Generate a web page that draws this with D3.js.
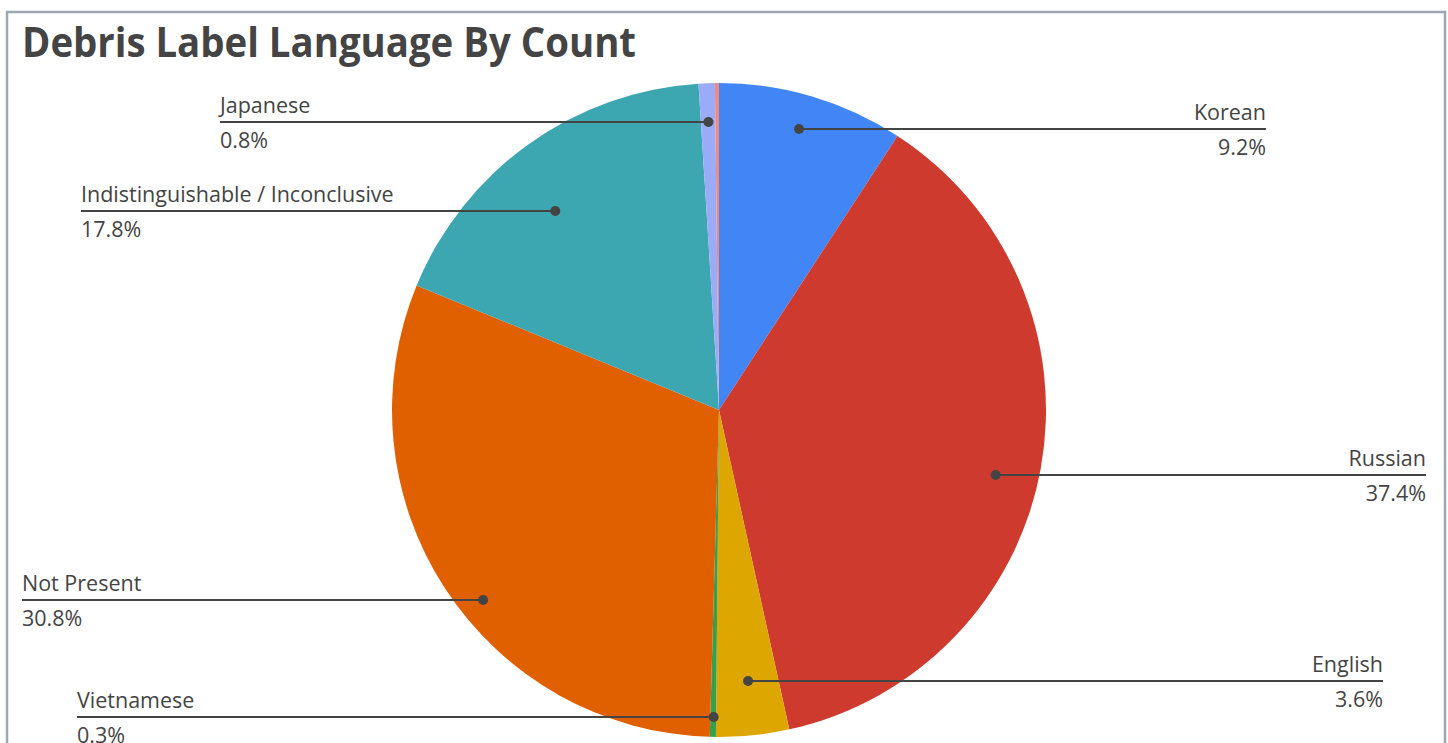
<!DOCTYPE html>
<html>
<head>
<meta charset="utf-8">
<script src="https://cdn.jsdelivr.net/npm/d3@7"></script>
<style>
  body { margin: 0; background: #fff; }
  svg { display: block; }
  text { font-family: "Open Sans", "Noto Sans", sans-serif; fill: #444; }
</style>
</head>
<body>
<svg id="chart" width="1448" height="743"></svg>
<script>
// Chart data (clockwise from 12 o'clock)
var languages = ["Korean", "Russian", "English", "Vietnamese", "Not Present",
                 "Indistinguishable / Inconclusive", "Japanese", "Other"];
var shares = [9.2, 37.4, 3.6, 0.3, 30.8, 17.8, 0.8, 0.2];
var sliceColors = ["#4285f4", "#cf3a2f", "#dea600", "#34a04e", "#e06000",
                   "#3ca6b1", "#9aacf7", "#f08a80"];
var labelled = [true, true, true, true, true, true, true, false];

var cx = 719, cy = 410, R = 327;

var svg = d3.select("#chart");

// Outer frame
svg.append("rect")
    .attr("x", 7).attr("y", 12)
    .attr("width", 1438).attr("height", 760)
    .attr("fill", "none")
    .attr("stroke", "#9aa8b4")
    .attr("stroke-width", 2.5);

// Title
svg.append("text")
    .attr("x", 22).attr("y", 57)
    .attr("textLength", 614)
    .attr("lengthAdjust", "spacingAndGlyphs")
    .style("font-size", "41px")
    .style("font-weight", "bold")
    .text("Debris Label Language By Count");

var data = languages.map(function(d, i) {
    return { name: d, value: shares[i], color: sliceColors[i], label: labelled[i] };
});

var pie = d3.pie().sort(null).value(function(d) { return d.value; });
var arc = d3.arc().innerRadius(0).outerRadius(R);
var arcs = pie(data);

var g = svg.append("g").attr("transform", "translate(" + cx + "," + cy + ")");

g.selectAll("path.slice")
    .data(arcs)
    .enter()
    .append("path")
    .attr("class", "slice")
    .attr("d", arc)
    .attr("fill", function(d) { return d.data.color; });

// Label layout: where each leader line ends (x) and its row (y)
var labelLayout = {
    "Korean": [1266, 129],
    "Russian": [1426, 475],
    "English": [1383, 681],
    "Vietnamese": [77, 717],
    "Not Present": [22, 600],
    "Indistinguishable / Inconclusive": [81, 211],
    "Japanese": [220, 122]
};

var dotR = R * 0.86;
var labelArcs = arcs.filter(function(d) { return d.data.label; });

labelArcs.forEach(function(d) {
    var a = (d.startAngle + d.endAngle) / 2;
    var px = cx + dotR * Math.sin(a);
    var right = a < Math.PI;
    var endX = labelLayout[d.data.name][0];
    var py = labelLayout[d.data.name][1];

    svg.append("line")
        .attr("x1", px).attr("y1", py)
        .attr("x2", endX).attr("y2", py)
        .attr("stroke", "#444")
        .attr("stroke-width", 2);

    svg.append("circle")
        .attr("cx", px).attr("cy", py)
        .attr("r", 5)
        .attr("fill", "#444");

    svg.append("text")
        .attr("x", endX).attr("y", py - 9)
        .attr("text-anchor", right ? "end" : "start")
        .style("font-size", "21.5px")
        .text(d.data.name);

    svg.append("text")
        .attr("x", endX).attr("y", py + 26)
        .attr("text-anchor", right ? "end" : "start")
        .style("font-size", "21.5px")
        .text(d.data.value.toFixed(1) + "%");
});
</script>
</body>
</html>
